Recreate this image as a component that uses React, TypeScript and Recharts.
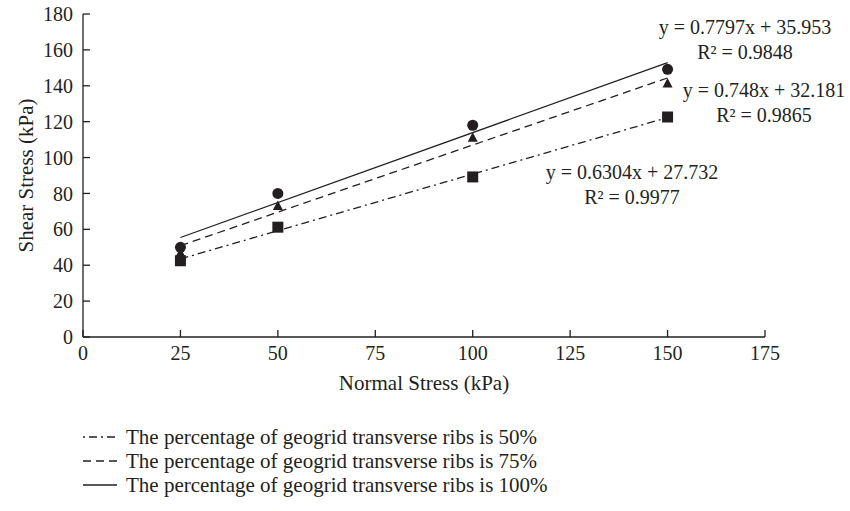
import React from 'react';
import {
  ComposedChart,
  XAxis,
  YAxis,
  Scatter,
  ReferenceLine,
  Legend,
  Customized,
} from 'recharts';

// Normal stress levels (kPa) applied in the direct shear tests
const normalStress = [25, 50, 100, 150];

// Measured peak shear stress (kPa) for each transverse-rib percentage
const shear50 = [42.5, 61.2, 89.2, 122.6];
const shear75 = [46.8, 73, 111, 141.2];
const shear100 = [50, 80, 118, 149.2];

// Linear fit results for each series
const fitSlope = [0.6304, 0.748, 0.7797];
const fitIntercept = [27.732, 32.181, 35.953];
const fitR2 = [0.9977, 0.9865, 0.9848];

const seriesNames = [
  'The percentage of geogrid transverse ribs is 50%',
  'The percentage of geogrid transverse ribs is 75%',
  'The percentage of geogrid transverse ribs is 100%',
];

const xTicks = [0, 25, 50, 75, 100, 125, 150, 175];
const yTicks = [0, 20, 40, 60, 80, 100, 120, 140, 160, 180];

const INK = '#231f20';
const FONT = '"Liberation Serif", "Times New Roman", serif';
const TICK_SIZE = 20;
const TEXT_SIZE = 21;

const dashStyles = ['8 4 2 4', '8 5', undefined];
const markerKinds = ['square', 'triangle', 'circle'];

const toPoints = (ys: number[]) => normalStress.map((x, i) => ({ x, y: ys[i] }));
const seriesPoints = [toPoints(shear50), toPoints(shear75), toPoints(shear100)];

const fitRangeStart = normalStress[0];
const fitRangeEnd = normalStress[normalStress.length - 1];

const makeShape = (kind: string) => (p: any) => {
  const { cx, cy } = p;
  if (kind === 'circle') return <circle cx={cx} cy={cy} r={5.5} fill={INK} />;
  if (kind === 'square') return <rect x={cx - 5.5} y={cy - 5.5} width={11} height={11} fill={INK} />;
  return (
    <polygon
      points={`${cx},${cy - 5.5} ${cx - 5},${cy + 4} ${cx + 5},${cy + 4}`}
      fill={INK}
    />
  );
};

// Equation annotations: series index and centre of the equation line
const eqPlacement = [
  { s: 2, x: 745, y: 27 },
  { s: 1, x: 764, y: 90 },
  { s: 0, x: 632, y: 172 },
];

const Equations = () => (
  <g fontFamily={FONT} fontSize={TICK_SIZE} fill={INK}>
    {eqPlacement.map(({ s, x, y }) => (
      <g key={s}>
        <text x={x} y={y} textAnchor="middle" dominantBaseline="central">
          {`y = ${fitSlope[s]}x + ${fitIntercept[s]}`}
        </text>
        <text x={x} y={y + 25} textAnchor="middle" dominantBaseline="central">
          {`R\u00b2 = ${fitR2[s]}`}
        </text>
      </g>
    ))}
  </g>
);

const LegendRows = () => (
  <div style={{ fontFamily: FONT, fontSize: TEXT_SIZE, color: INK }}>
    {seriesNames.map((name, i) => (
      <div key={name} style={{ display: 'flex', alignItems: 'center', height: 24 }}>
        <svg width={34} height={24} style={{ marginRight: 9, flex: 'none' }}>
          <line
            x1={0}
            y1={12}
            x2={34}
            y2={12}
            stroke={INK}
            strokeWidth={1.3}
            strokeDasharray={dashStyles[i]}
            strokeDashoffset={i === 0 ? 12 : 0}
          />
        </svg>
        <span style={{ lineHeight: '24px', whiteSpace: 'nowrap' }}>{name}</span>
      </div>
    ))}
  </div>
);

const tickStyle = { fontFamily: FONT, fontSize: TICK_SIZE, fill: INK };

export default function App() {
  return (
    <div style={{ position: 'absolute', left: 0, top: 0, width: 850, height: 511, background: '#fff' }}>
      <ComposedChart
        width={850}
        height={511}
        margin={{ top: 14, right: 85, bottom: 0, left: 0 }}
      >
        <XAxis
          type="number"
          dataKey="x"
          domain={[0, 175]}
          ticks={xTicks}
          interval={0}
          height={174}
          axisLine={{ stroke: INK, strokeWidth: 1.3 }}
          tickLine={{ stroke: INK, strokeWidth: 1.3 }}
          tickSize={-7}
          tickMargin={16}
          tick={tickStyle}
          label={{
            content: ({ viewBox }: any) => (
              <text
                x={viewBox.x + viewBox.width / 2}
                y={viewBox.y + 46}
                textAnchor="middle"
                dominantBaseline="central"
                fontFamily={FONT}
                fontSize={TEXT_SIZE}
                fill={INK}
              >
                Normal Stress (kPa)
              </text>
            ),
          }}
        />
        <YAxis
          type="number"
          dataKey="y"
          domain={[0, 180]}
          ticks={yTicks}
          interval={0}
          width={83}
          axisLine={{ stroke: INK, strokeWidth: 1.3 }}
          tickLine={{ stroke: INK, strokeWidth: 1.3 }}
          tickSize={-7}
          tickMargin={17}
          tick={tickStyle}
          label={{
            content: ({ viewBox }: any) => {
              const cx = viewBox.x + 26;
              const cy = viewBox.y + viewBox.height / 2;
              return (
                <text
                  x={cx}
                  y={cy}
                  transform={`rotate(-90 ${cx} ${cy})`}
                  textAnchor="middle"
                  dominantBaseline="central"
                  fontFamily={FONT}
                  fontSize={TEXT_SIZE}
                  fill={INK}
                >
                  Shear Stress (kPa)
                </text>
              );
            },
          }}
        />

        {fitSlope.map((m, i) => (
          <ReferenceLine
            key={`fit-${i}`}
            segment={[
              { x: fitRangeStart, y: m * fitRangeStart + fitIntercept[i] },
              { x: fitRangeEnd, y: m * fitRangeEnd + fitIntercept[i] },
            ]}
            stroke={INK}
            strokeWidth={1.3}
            strokeDasharray={dashStyles[i]}
          />
        ))}

        {seriesPoints.map((pts, i) => (
          <Scatter
            key={`pts-${i}`}
            name={seriesNames[i]}
            data={pts}
            shape={makeShape(markerKinds[i])}
            isAnimationActive={false}
          />
        ))}

        <Customized component={Equations} />

        <Legend
          layout="vertical"
          align="center"
          verticalAlign="middle"
          content={() => <LegendRows />}
          wrapperStyle={{ left: 83, top: 425, width: 560 }}
        />
      </ComposedChart>
    </div>
  );
}
